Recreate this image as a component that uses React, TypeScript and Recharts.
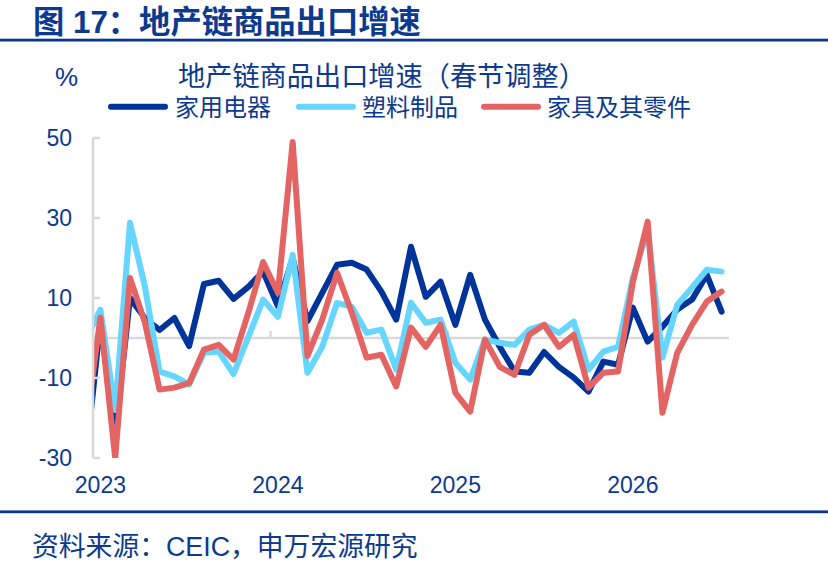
import React from 'react';
import { LineChart, Line, XAxis, YAxis, ReferenceLine } from 'recharts';

// Monthly observations (index 0 = Dec 2022, clipped at the left edge of the axis)
const months = [
  '2022-12',
  '2023-01', '2023-02', '2023-03', '2023-04', '2023-05', '2023-06', '2023-07', '2023-08', '2023-09', '2023-10', '2023-11', '2023-12',
  '2024-01', '2024-02', '2024-03', '2024-04', '2024-05', '2024-06', '2024-07', '2024-08', '2024-09', '2024-10', '2024-11', '2024-12',
  '2025-01', '2025-02', '2025-03', '2025-04', '2025-05', '2025-06', '2025-07', '2025-08', '2025-09', '2025-10', '2025-11', '2025-12',
  '2026-01', '2026-02', '2026-03', '2026-04', '2026-05', '2026-06', '2026-07',
];

const homeAppliances = [
  -31,
  4, -24, 10, 5, 2, 5, -2, 13.5, 14.3, 9.8, 12.8, 16.6,
  8, 20, 4.2, 11.3, 18.3, 18.8, 17.1, 11.6, 4.6, 22.8, 10.3, 14.1,
  3.3, 15.8, 4.6, -2.2, -8.4, -8.7, -3.5, -7.2, -9.9, -13.4, -5.9, -6.7,
  7.6, -0.9, 2.8, 7.1, 9.6, 15.8, 6.6,
];

const plastics = [
  -0.5,
  7.1, -18, 28.8, 13, -8.4, -9.6, -11.6, -3.7, -3.4, -9, 0.2, 9.6,
  5.3, 20.8, -8.7, -2.2, 8.8, 7.8, 1.3, 2.1, -7.9, 8.8, 3.8, 4.6,
  -6.2, -10.4, -0.4, -1.2, -1.7, 2.1, 3.3, 1.3, 4.1, -7.9, -3.4, -2.2,
  15, 27, -4.9, 8.3, 12.6, 17.1, 16.6,
];

const furniture = [
  -22.5,
  5.1, -30, 15, 4, -12.9, -12.4, -11.3, -2.9, -1.7, -5.4, 6.3, 19,
  11.3, 49, -4.5, 4.6, 16.3, 6.3, -4.9, -4.2, -12.1, 2.6, -2.2, 3.3,
  -13.7, -18.4, -0.4, -7.2, -9.2, 0.8, 3.3, -2.2, 0.8, -12.4, -8.7, -8.4,
  14, 29.1, -18.7, -3.7, 3.3, 9.1, 11.6,
];

const yTicks = [-30, -10, 10, 30, 50];
const seriesNames = ['家用电器', '塑料制品', '家具及其零件'];
const seriesColors = ['#00349A', '#66D6FF', '#E46464'];

const TEXT = '#0C3A8E';
const GRID = '#D9D9D9';
const FONT = '"Liberation Sans", Arial, "Noto Sans CJK SC", sans-serif';

const data = months.map((m, i) => ({
  idx: i,
  month: m,
  a: homeAppliances[i],
  b: plastics[i],
  c: furniture[i],
}));

const yearTicks = data.filter((d) => d.month.endsWith('-01')).map((d) => d.idx);
const yearBoundaries = yearTicks.slice(1).map((t) => t - 0.5);

const YTick = (props: any) => {
  const { x, y, payload } = props;
  return (
    <g>
      <line x1={x + 21} x2={x + 28} y1={y} y2={y} stroke={GRID} strokeWidth={2.5} />
      <text x={x} y={y} dy="0.355em" textAnchor="end" fontSize={23} fill={TEXT} fontFamily={FONT}>
        {payload.value}
      </text>
    </g>
  );
};

const legendItems = [
  { lineX: 108, textX: 175 },
  { lineX: 296, textX: 362 },
  { lineX: 481, textX: 547 },
];

export default function App() {
  return (
    <div
      style={{
        position: 'absolute',
        left: 0,
        top: 0,
        width: 828,
        height: 567,
        background: '#fff',
        fontFamily: FONT,
        overflow: 'hidden',
      }}
    >
      <svg width={828} height={567} style={{ position: 'absolute', left: 0, top: 0 }}>
        <text x={33} y={33} fontSize={31.3} fontWeight="bold" fill={TEXT} fontFamily={FONT}>
          图 17：地产链商品出口增速
        </text>
        <rect x={0} y={38.7} width={828} height={2.8} fill="#0A3590" />
        <text x={55} y={86} fontSize={26} fill={TEXT} fontFamily={FONT}>%</text>
        <text x={178} y={86} fontSize={27.2} fill={TEXT} fontFamily={FONT}>
          地产链商品出口增速（春节调整）
        </text>
        {seriesNames.map((n, i) => (
          <g key={n}>
            <line
              x1={legendItems[i].lineX + 3}
              x2={legendItems[i].lineX + 57}
              y1={106.7}
              y2={106.7}
              stroke={seriesColors[i]}
              strokeWidth={6}
              strokeLinecap="round"
            />
            <text x={legendItems[i].textX} y={116} fontSize={24} fill={TEXT} fontFamily={FONT}>
              {n}
            </text>
          </g>
        ))}
        <rect x={0} y={510.4} width={828} height={2.8} fill="#0A3590" />
        <text x={32} y={556} fontSize={26.8} fill={TEXT} fontFamily={FONT}>
          资料来源：CEIC，申万宏源研究
        </text>
      </svg>
      <div style={{ position: 'absolute', left: 0, top: 0 }}>
        <LineChart width={828} height={567} data={data} margin={{ top: 138, right: 99, bottom: 69, left: 0 }}>
          <ReferenceLine y={0} stroke={GRID} strokeWidth={2.5} />
          {yearBoundaries.map((b) => (
            <ReferenceLine
              key={b}
              segment={[
                { x: b, y: 0 },
                { x: b, y: 1.8 },
              ]}
              stroke={GRID}
              strokeWidth={2.5}
            />
          ))}
          <XAxis
            type="number"
            dataKey="idx"
            domain={[0.5, 43.5]}
            allowDataOverflow
            ticks={yearTicks}
            interval={0}
            tickFormatter={(v: number) => months[v].slice(0, 4)}
            axisLine={false}
            tickLine={false}
            tickSize={0}
            tickMargin={19}
            height={40}
            tick={{ fontSize: 23, fill: TEXT, fontFamily: FONT }}
          />
          <YAxis
            type="number"
            domain={[-30, 50]}
            allowDataOverflow
            ticks={yTicks}
            interval={0}
            width={93}
            axisLine={{ stroke: GRID, strokeWidth: 2.5 }}
            tickLine={false}
            tickSize={0}
            tickMargin={21}
            tick={<YTick />}
          />
          <Line
            type="linear"
            dataKey="a"
            name={seriesNames[0]}
            stroke={seriesColors[0]}
            strokeWidth={6}
            strokeLinejoin="round"
            strokeLinecap="round"
            dot={false}
            activeDot={false}
            isAnimationActive={false}
          />
          <Line
            type="linear"
            dataKey="b"
            name={seriesNames[1]}
            stroke={seriesColors[1]}
            strokeWidth={6}
            strokeLinejoin="round"
            strokeLinecap="round"
            dot={false}
            activeDot={false}
            isAnimationActive={false}
          />
          <Line
            type="linear"
            dataKey="c"
            name={seriesNames[2]}
            stroke={seriesColors[2]}
            strokeWidth={6}
            strokeLinejoin="round"
            strokeLinecap="round"
            dot={false}
            activeDot={false}
            isAnimationActive={false}
          />
        </LineChart>
      </div>
    </div>
  );
}
